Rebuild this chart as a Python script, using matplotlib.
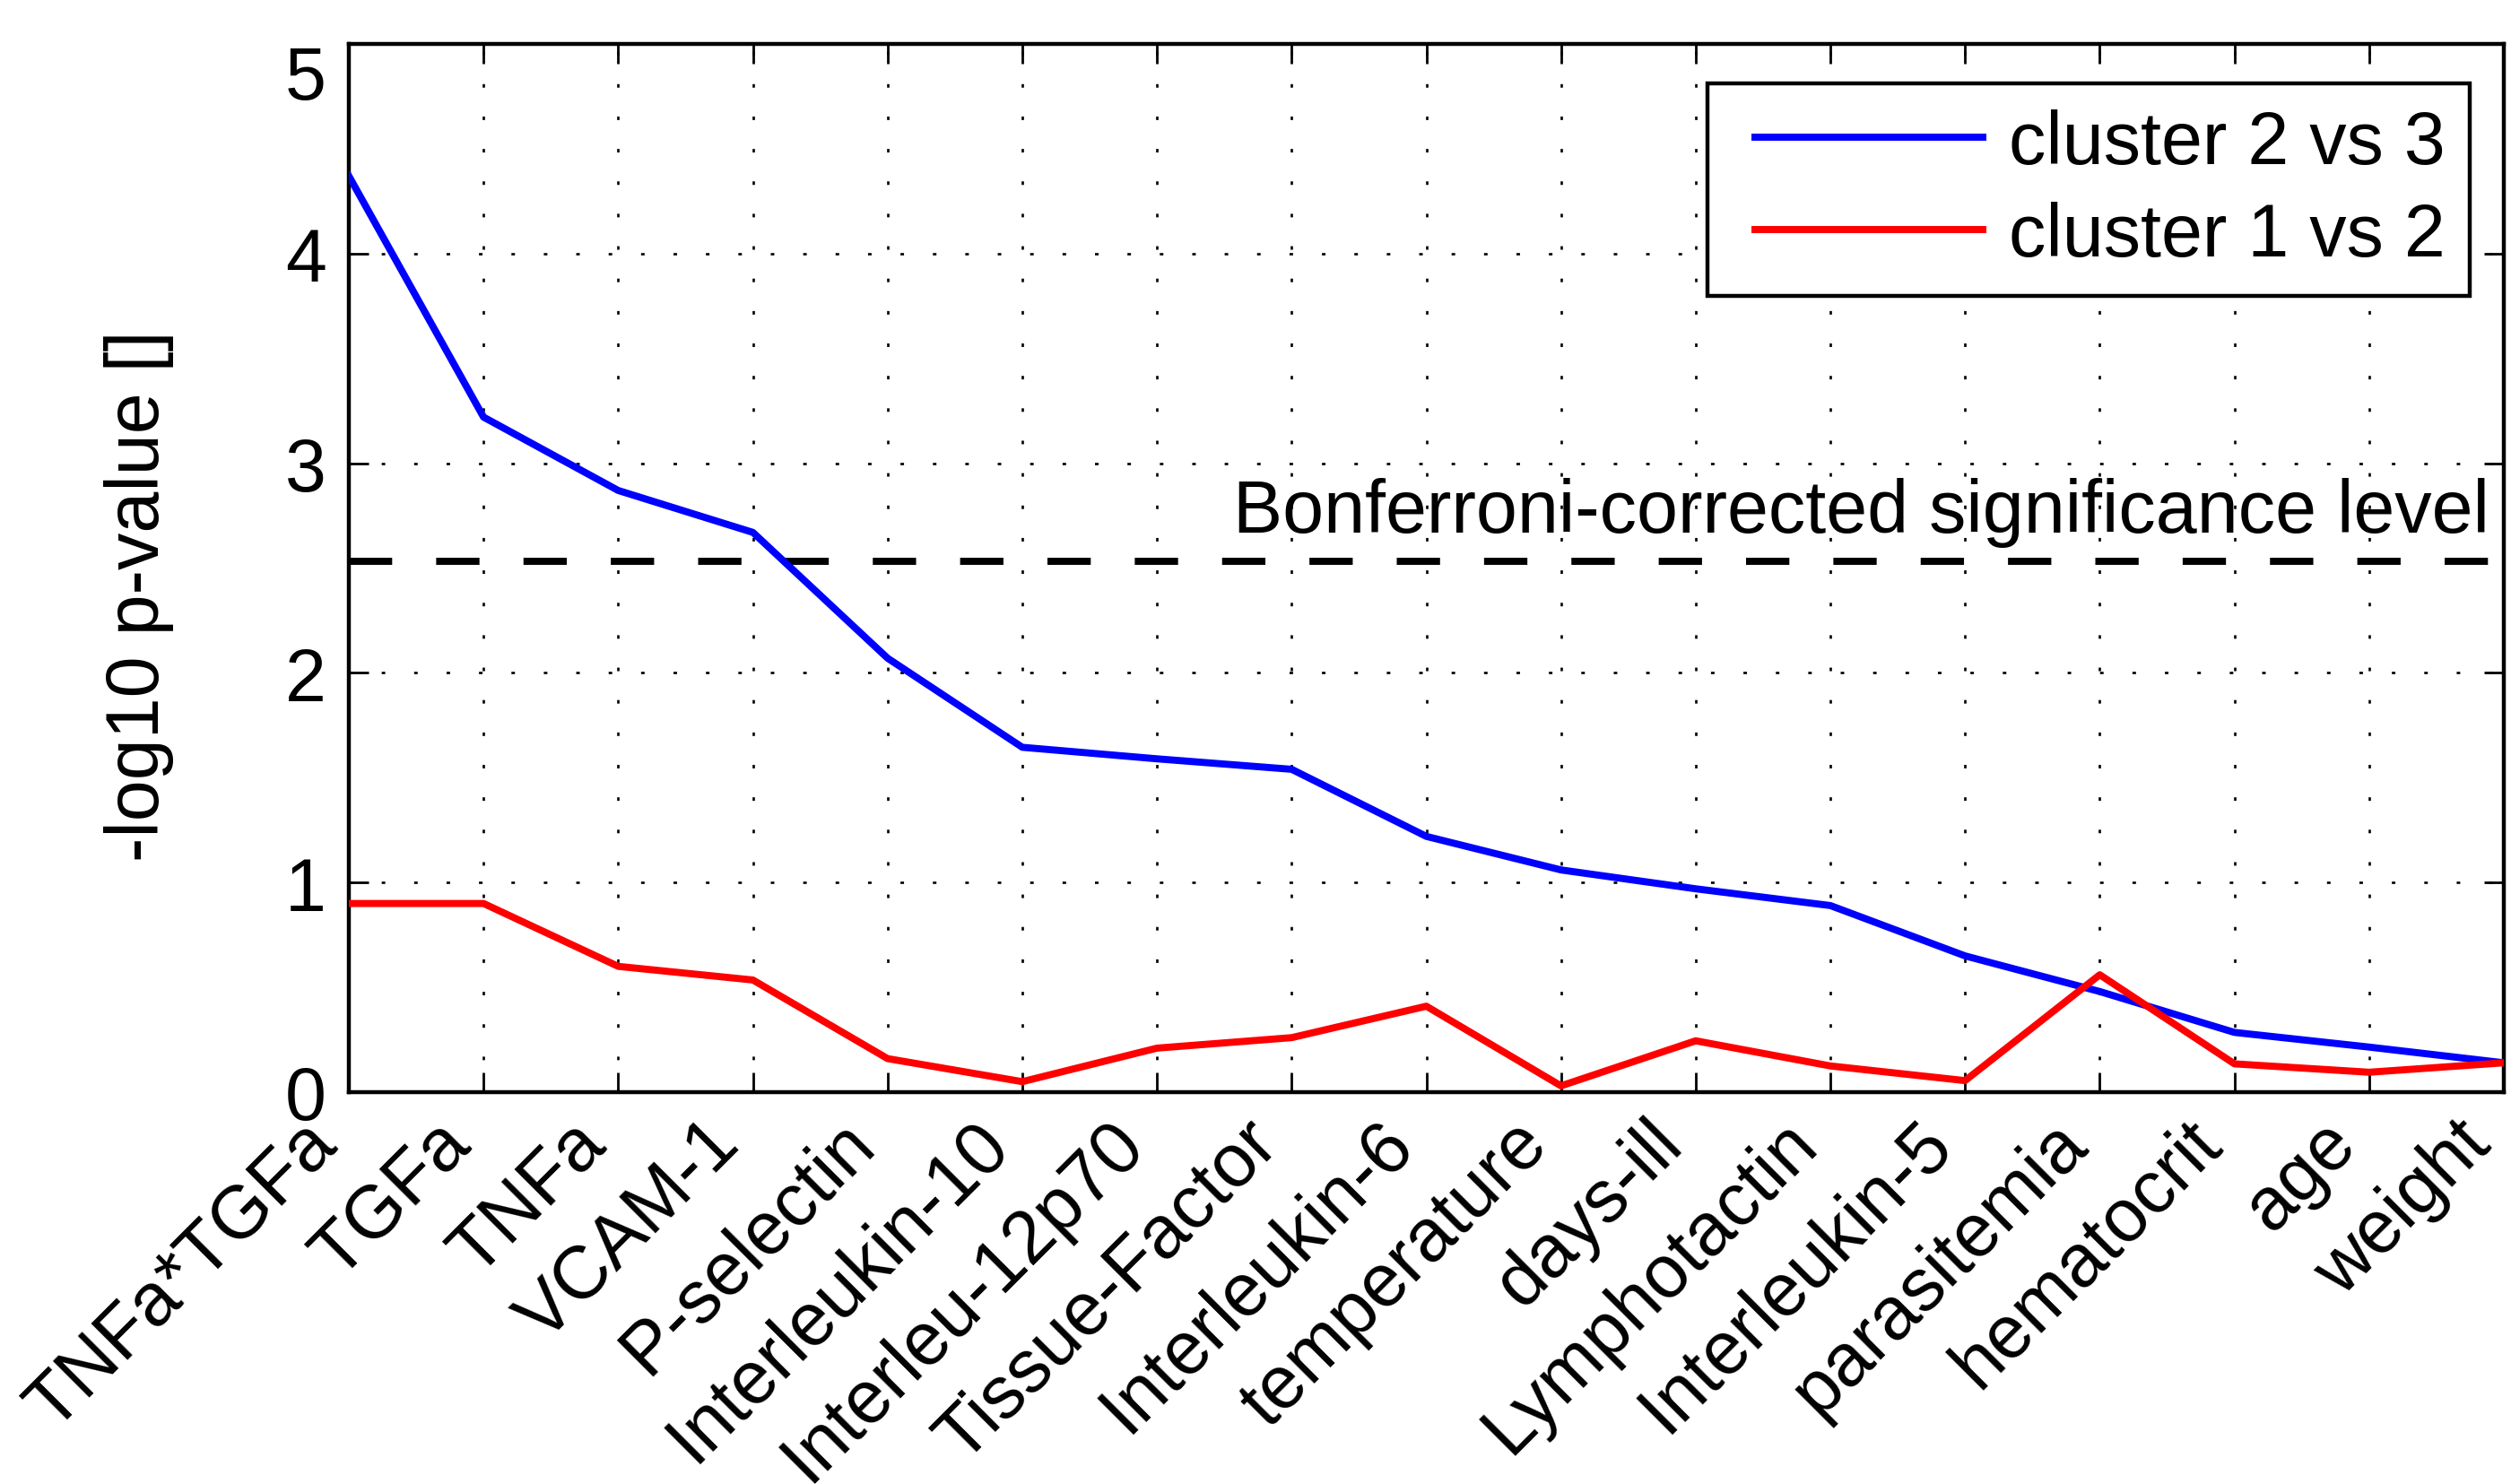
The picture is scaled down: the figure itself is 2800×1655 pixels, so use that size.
import matplotlib
matplotlib.use('Agg')
import matplotlib.pyplot as plt
from matplotlib.legend_handler import HandlerLine2D
import numpy as np

# variables ordered by cluster 2 vs 3 significance
variables = ['TNFa*TGFa', 'TGFa', 'TNFa', 'VCAM-1', 'P-selectin', 'Interleukin-10',
             'Interleu-12p70', 'Tissue-Factor', 'Interleukin-6', 'temperature',
             'days-ill', 'Lymphotactin', 'Interleukin-5', 'parasitemia',
             'hematocrit', 'age', 'weight']

# -log10 p-values
cluster_2_vs_3 = [4.37, 3.22, 2.87, 2.67, 2.07, 1.645, 1.59, 1.54, 1.22, 1.06,
                  0.97, 0.89, 0.65, 0.48, 0.285, 0.215, 0.14]
cluster_1_vs_2 = [0.90, 0.90, 0.60, 0.535, 0.16, 0.05, 0.21, 0.26, 0.41, 0.03,
                  0.245, 0.125, 0.055, 0.56, 0.135, 0.095, 0.14]

bonferroni_level = 2.53

plt.rcParams['font.family'] = ['Liberation Sans', 'DejaVu Sans']
fs = 59.5

fig = plt.figure(figsize=(28, 16.56), dpi=100)
ax = fig.add_axes([389 / 2800, 1 - 1219 / 1656, (2792 - 389) / 2800, (1219 - 50) / 1656])

x = np.arange(1, len(variables) + 1)
ax.plot(x, cluster_2_vs_3, color=(0, 0, 1), lw=5.7, label='cluster 2 vs 3', zorder=3)
ax.plot(x, cluster_1_vs_2, color=(1, 0, 0), lw=5.7, label='cluster 1 vs 2', zorder=3)

# significance threshold
ax.axhline(bonferroni_level, color='black', lw=5.7, linestyle=(0, (6.1, 6.2)), zorder=2)
ax.text(16.89, bonferroni_level + 0.145, 'Bonferroni-corrected significance level',
        ha='right', va='baseline', fontsize=fs)

ax.set_xlim(1, len(variables))
ax.set_ylim(0, 5)
ax.set_xticks(x)
ax.set_xticklabels(variables, rotation=45, ha='right', va='top', fontsize=fs)
ax.set_yticks(np.arange(0, 6, 1))
ax.tick_params(axis='y', labelsize=fs, pad=18)
ax.tick_params(axis='x', pad=12)
ax.tick_params(direction='in', top=True, right=True, length=16, width=2)
# top label sits just under the axis edge, as in the original
ax.get_yticklabels()[-1].set_va('top')

ax.grid(True, color='black', linestyle=(0, (1.5, 12.2)), linewidth=1.9)
for s in ax.spines.values():
    s.set_linewidth(3.2)

ax.set_ylabel('-log10 p-value []', fontsize=fs)
ax.yaxis.set_label_coords(-0.081, 0.474)

# legend: extra room left of the sample lines
hl = HandlerLine2D(numpoints=2, marker_pad=0.31)
leg = ax.legend(loc='upper right', bbox_to_anchor=(0.984, 0.962), fontsize=fs,
                handlelength=3.69, handletextpad=0.04, labelspacing=0.31,
                borderpad=0.33, borderaxespad=0, fancybox=False, framealpha=1,
                handler_map={plt.Line2D: hl})
leg.get_frame().set_edgecolor('black')
leg.get_frame().set_linewidth(3.2)

fig.savefig('out.png', dpi=100)
